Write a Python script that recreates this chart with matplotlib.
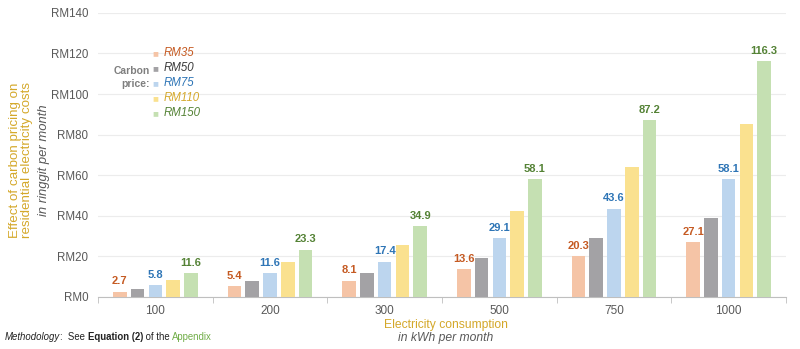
import matplotlib.pyplot as plt
import numpy as np

plt.rcParams['font.family'] = ['Liberation Sans', 'DejaVu Sans']

# electricity consumption groups (kWh per month)
consumption = ["100", "200", "300", "500", "750", "1000"]

# monthly cost increase per carbon price (RM)
carbon_prices = ["RM35", "RM50", "RM75", "RM110", "RM150"]
rm35 = [2.7, 5.4, 8.1, 13.6, 20.3, 27.1]
rm50 = [3.9, 7.8, 11.6, 19.4, 29.1, 38.8]
rm75 = [5.8, 11.6, 17.4, 29.1, 43.6, 58.1]
rm110 = [8.5, 17.1, 25.6, 42.6, 63.9, 85.3]
rm150 = [11.6, 23.3, 34.9, 58.1, 87.2, 116.3]
series = [rm35, rm50, rm75, rm110, rm150]

y_ticks = [0, 20, 40, 60, 80, 100, 120, 140]

BAR_COLORS = ["#f5c4a6", "#a3a2a5", "#bcd5ee", "#fae18f", "#c5e0b2"]
TEXT_COLORS = ["#c55a22", "#3a3a3a", "#2e75b6", "#d4a82a", "#548235"]
LABELLED = [0, 2, 4]  # which series get value labels
GOLD = "#d4a82a"
GREY = "#595959"

fig = plt.figure(figsize=(8, 3.49), dpi=100)
ax = fig.add_axes([0.1225, 0.149, 0.86, 0.814])

x = np.arange(len(consumption))
pitch = 0.155
width = 0.118
for i, vals in enumerate(series):
    pos = x + (i - 2) * pitch
    ax.bar(pos, vals, width, color=BAR_COLORS[i], zorder=3)
    if i in LABELLED:
        for p, v in zip(pos, vals):
            ax.text(p, v + 2.6, f"{v:.1f}", ha="center", va="bottom",
                    fontsize=8, fontweight="bold", color=TEXT_COLORS[i])

ax.set_xlim(-0.5, len(consumption) - 0.5)
ax.set_ylim(0, 140)
ax.set_yticks(y_ticks)
ax.set_yticklabels([f"RM{t}" for t in y_ticks], fontsize=8.3, color=GREY)
ax.set_xticks(x)
ax.set_xticklabels(consumption, fontsize=8.5, color=GREY)
ax.set_xticks(np.arange(-0.5, len(consumption)), minor=True)
ax.tick_params(axis="x", which="major", length=0, pad=6)
ax.tick_params(axis="x", which="minor", length=4, color="#bfbfbf")
ax.tick_params(axis="y", length=0, pad=7)
ax.grid(axis="y", color="#ececec", linewidth=0.8, zorder=0)
for s in ["top", "right", "left"]:
    ax.spines[s].set_visible(False)
ax.spines["bottom"].set_color("#bfbfbf")

# axis titles
fig.text(0.5575, 0.069, "Electricity consumption", ha="center", va="center",
         fontsize=8.7, color=GOLD)
fig.text(0.5575, 0.031, "in kWh per month", ha="center", va="center",
         fontsize=8.7, style="italic", color=GREY)
fig.text(0.026, 0.542, "Effect of carbon pricing on\nresidential electricity costs",
         rotation=90, ha="center", va="center", fontsize=9.6, color=GOLD,
         linespacing=1.0)
fig.text(0.055, 0.542, "in ringgit per month", rotation=90, ha="center",
         va="center", fontsize=9.4, style="italic", color=GREY)

# legend
fig.text(0.187, 0.778, "Carbon\nprice:", ha="right", va="center", fontsize=7.5,
         fontweight="bold", color="#7f7f7f", linespacing=1.3, multialignment="right")
for i, name in enumerate(carbon_prices):
    yy = 0.848 - i * 0.043
    fig.text(0.19, yy, "\u25a0", ha="left", va="center", fontsize=7,
             color=BAR_COLORS[i])
    fig.text(0.204, yy, name, ha="left", va="center", fontsize=8.3,
             style="italic", color=TEXT_COLORS[i])

# footnote, pieces placed one after another
pieces = [("Methodology", {"style": "italic"}), (":  See ", {}),
          ("Equation (2)", {"fontweight": "bold"}), (" of the ", {}),
          ("Appendix", {"color": "#70ad47"})]
renderer = fig.canvas.get_renderer()
fx = 5
for txt, kw in pieces:
    props = {"fontsize": 6.9, "color": "#222222"}
    props.update(kw)
    t = fig.text(fx / 800, 0.034, txt, va="center", transform=fig.transFigure, **props)
    fx = t.get_window_extent(renderer).x1

fig.savefig("out.png", dpi=100)
